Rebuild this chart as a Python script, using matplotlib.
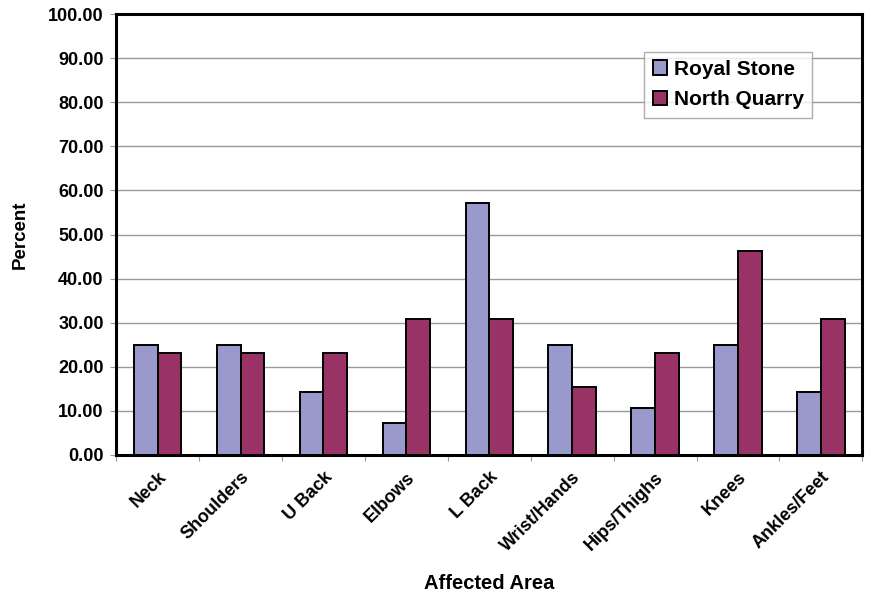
import numpy as np
import matplotlib
matplotlib.use('Agg')
import matplotlib.pyplot as plt
from matplotlib.ticker import FormatStrFormatter

areas = ['Neck', 'Shoulders', 'U Back', 'Elbows', 'L Back', 'Wrist/Hands',
         'Hips/Thighs', 'Knees', 'Ankles/Feet']
royal_stone = [25.00, 25.00, 14.29, 7.14, 57.14, 25.00, 10.71, 25.00, 14.29]
north_quarry = [23.08, 23.08, 23.08, 30.77, 30.77, 15.38, 23.08, 46.15, 30.77]

plt.rcParams['font.family'] = ['Liberation Sans', 'DejaVu Sans']
plt.rcParams['font.weight'] = 'bold'

fig = plt.figure(figsize=(8.8, 5.93), dpi=100)
ax = fig.add_axes([0.132, 0.233, 0.848, 0.743])

x = np.arange(len(areas))
w = 0.286   # excel style gap width 150%
ax.bar(x - w / 2, royal_stone, w, color='#9999cc', edgecolor='black',
       linewidth=1.4, label='Royal Stone', zorder=3)
ax.bar(x + w / 2, north_quarry, w, color='#993366', edgecolor='black',
       linewidth=1.4, label='North Quarry', zorder=3)

ax.set_xlim(-0.5, len(areas) - 0.5)
ax.set_ylim(0, 100)
ax.set_yticks(np.arange(0, 101, 10))
ax.yaxis.set_major_formatter(FormatStrFormatter('%.2f'))
ax.yaxis.grid(True, color='#999999', linewidth=1.0, zorder=0)

# ticks between the categories, labels at the centres
ax.set_xticks(np.arange(-0.5, len(areas), 1.0))
ax.set_xticklabels([])
ax.set_xticks(x, minor=True)
ax.set_xticklabels(areas, minor=True, rotation=45, ha='right',
                   rotation_mode='anchor', fontsize=13, fontweight='bold')
ax.tick_params(axis='x', which='minor', length=0, pad=10)
ax.tick_params(axis='x', which='major', length=4, color='#999999')
ax.tick_params(axis='y', length=4, color='#999999', labelsize=13, pad=5)
for lbl in ax.get_yticklabels():
    lbl.set_fontweight('bold')

for s in ax.spines.values():
    s.set_linewidth(2.2)

ax.set_ylabel('Percent', fontsize=13.5, fontweight='bold', labelpad=14)
ax.set_xlabel('Affected Area', fontsize=14.5, fontweight='bold', labelpad=14)

leg = ax.legend(loc='upper left', bbox_to_anchor=(0.708, 0.915),
                frameon=True, fancybox=False, edgecolor='#999999',
                handlelength=0.7, handleheight=0.7, handletextpad=0.3,
                borderpad=0.4, labelspacing=0.55, borderaxespad=0,
                prop={'weight': 'bold', 'size': 15})
leg.get_frame().set_linewidth(1.0)

fig.savefig('out.png', dpi=100)
